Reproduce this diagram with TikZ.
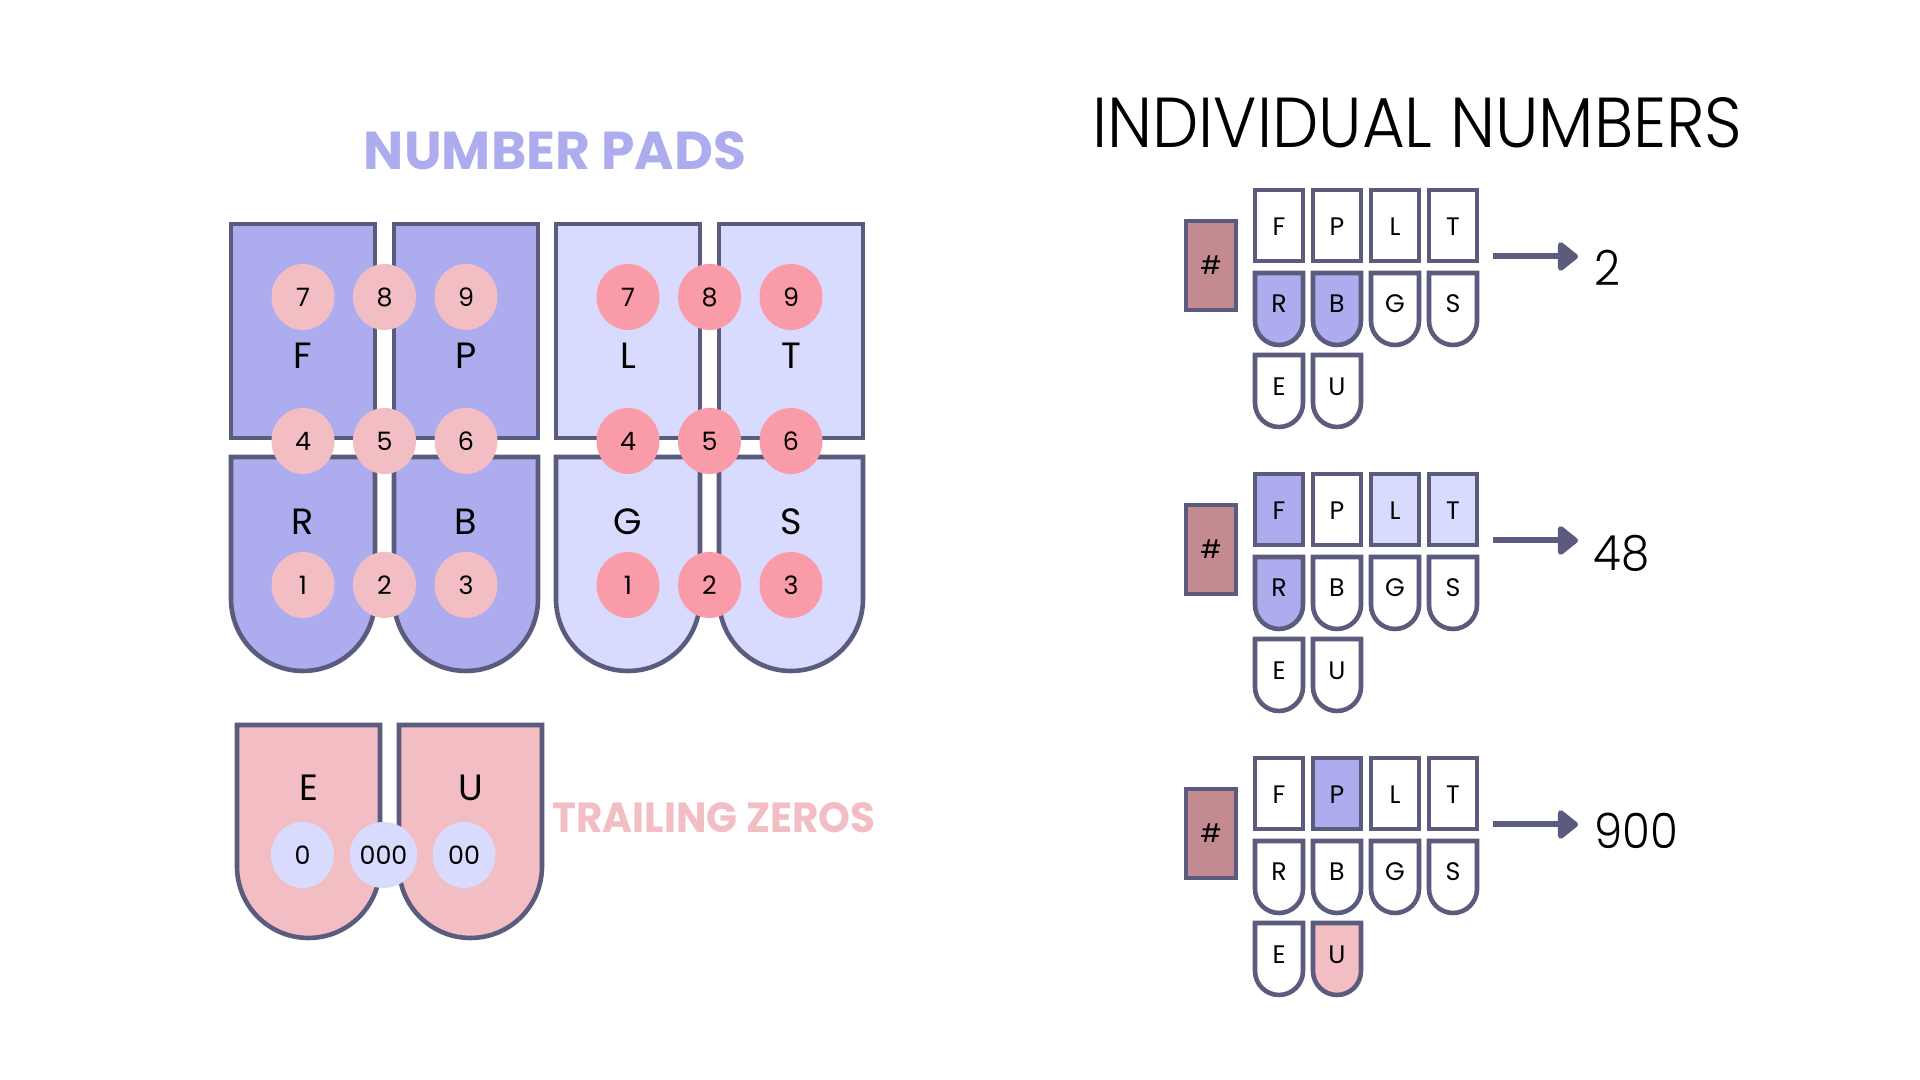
\documentclass[tikz,border=0pt]{standalone}
\usepackage{fontspec}
\usetikzlibrary{arrows.meta,shapes.geometric}
\setmainfont{Poppins}
\newfontfamily\plight{Poppins Light}
\definecolor{edge}{HTML}{5B5B7D}
\definecolor{lav}{HTML}{ADACEE}
\definecolor{lavlt}{HTML}{D8DBFD}
\definecolor{pinklt}{HTML}{F2BDC3}
\definecolor{pinkdk}{HTML}{FA9BA9}
\definecolor{hashc}{HTML}{C38A90}
\newlength\pxu \setlength\pxu{0.01cm}

% rounded-bottom key: left x, top Y, right x, bottom Y, style
\newcommand\RoundKey[5]{\draw[keyline,#5] (#1,#2) -- (#1,{(#4)+((#3)-(#1))/2}) arc[start angle=180,end angle=360,radius={((#3)-(#1))/2}] -- (#3,#2) -- cycle;}

% one small steno keyboard: id, top y (screen, downward)
\newcommand\DrawGroup[2]{%
  \draw[keyline,fill=hashc] (1186,1080-#2-33) rectangle (1236,1080-#2-122);
  \node[keyletter] (#1hash) at (1211,1080-#2-77) {\#};
  \draw[keyline,kF] (1255,1080-#2-2) rectangle (1303,1080-#2-73);
  \draw[keyline,kP] (1313,1080-#2-2) rectangle (1361,1080-#2-73);
  \draw[keyline,kL] (1371,1080-#2-2) rectangle (1419,1080-#2-73);
  \draw[keyline,kT] (1429,1080-#2-2) rectangle (1477,1080-#2-73);
  \RoundKey{1255}{1080-#2-85}{1303}{1080-#2-157}{kR}
  \RoundKey{1313}{1080-#2-85}{1361}{1080-#2-157}{kB}
  \RoundKey{1371}{1080-#2-85}{1419}{1080-#2-157}{kG}
  \RoundKey{1429}{1080-#2-85}{1477}{1080-#2-157}{kS}
  \RoundKey{1255}{1080-#2-167}{1303}{1080-#2-239}{kE}
  \RoundKey{1313}{1080-#2-167}{1361}{1080-#2-239}{kU}
  \node[keyletter] (#1F) at (1279,1080-#2-39) {F};
  \node[keyletter] (#1P) at (1337,1080-#2-39) {P};
  \node[keyletter] (#1L) at (1395,1080-#2-39) {L};
  \node[keyletter] (#1T) at (1453,1080-#2-39) {T};
  \node[keyletter] (#1R) at (1279,1080-#2-116) {R};
  \node[keyletter] (#1B) at (1337,1080-#2-116) {B};
  \node[keyletter] (#1G) at (1395,1080-#2-116) {G};
  \node[keyletter] (#1S) at (1453,1080-#2-116) {S};
  \node[keyletter] (#1E) at (1279,1080-#2-198.5) {E};
  \node[keyletter] (#1U) at (1337,1080-#2-198.5) {U};
  \coordinate (#1a) at (1493,1080-#2-68.5);
  \coordinate (#1b) at (1578,1080-#2-68.5);
  \draw[arr] (#1a) -- (#1b);
}

\begin{document}
\begin{tikzpicture}[x=0.01cm,y=0.01cm,
  keyline/.style={draw=edge,line width=4.6\pxu,line join=miter},
  padletter/.style={inner sep=0,font=\fontsize{10.4}{12}\selectfont},
  keyletter/.style={inner sep=0,font=\fontsize{7.2}{8}\selectfont},
  circ/.style={ellipse,draw=none,minimum width=63\pxu,minimum height=66\pxu,inner sep=0,font=\fontsize{7.2}{8}\selectfont},
  numlabel/.style={anchor=west,inner sep=0,xscale=0.93,font=\plight\fontsize{13.8}{16}\selectfont},
  arr/.style={draw=edge,line width=6\pxu,-{Triangle[length=6.2pt,width=9.4pt,round]}},
  kF/.style={fill=white},kP/.style={fill=white},kL/.style={fill=white},kT/.style={fill=white},
  kR/.style={fill=white},kB/.style={fill=white},kG/.style={fill=white},kS/.style={fill=white},
  kE/.style={fill=white},kU/.style={fill=white}]
\useasboundingbox (0,0) rectangle (1920,1080);
\fill[white] (0,0) rectangle (1920,1080);

% ---------- titles ----------
\node[inner sep=0,text=lav] (npads) at (555,929) {\resizebox{382\pxu}{38\pxu}{\bfseries NUMBER PADS}};
\node[inner sep=0] (indiv) at (1417.5,957) {\resizebox{650\pxu}{50\pxu}{\plight INDIVIDUAL NUMBERS}};
\node[inner sep=0,text=pinklt] (tzeros) at (714,262) {\resizebox{323\pxu}{30\pxu}{\bfseries TRAILING ZEROS}};

% ---------- left number pad ----------
\draw[keyline,fill=lav] (231,856) rectangle (375,642);
\draw[keyline,fill=lav] (394,856) rectangle (538,642);
\RoundKey{231}{623}{375}{409}{fill=lav}
\RoundKey{394}{623}{538}{409}{fill=lav}
% ---------- right number pad ----------
\draw[keyline,fill=lavlt] (556,856) rectangle (700,642);
\draw[keyline,fill=lavlt] (719,856) rectangle (863,642);
\RoundKey{556}{623}{700}{409}{fill=lavlt}
\RoundKey{719}{623}{863}{409}{fill=lavlt}
% ---------- vowel keys ----------
\RoundKey{237}{355}{380}{142}{fill=pinklt}
\RoundKey{399}{355}{542}{142}{fill=pinklt}

% pad letters
\node[padletter] (pF) at (303,724) {F};
\node[padletter] (pP) at (466,724) {P};
\node[padletter] (pL) at (628,724) {L};
\node[padletter] (pT) at (791,724) {T};
\node[padletter] (pR) at (303,558.5) {R};
\node[padletter] (pB) at (466,558.5) {B};
\node[padletter] (pG) at (628,558.5) {G};
\node[padletter] (pS) at (791,558.5) {S};
\node[padletter] (pE) at (309,292) {E};
\node[padletter] (pU) at (471,292) {U};

% left pad digits
\node[circ,fill=pinklt] (l7) at (303,783) {7};
\node[circ,fill=pinklt] (l8) at (384.5,783) {8};
\node[circ,fill=pinklt] (l9) at (466,783) {9};
\node[circ,fill=pinklt] (l4) at (303,639) {4};
\node[circ,fill=pinklt] (l5) at (384.5,639) {5};
\node[circ,fill=pinklt] (l6) at (466,639) {6};
\node[circ,fill=pinklt] (l1) at (303,495) {1};
\node[circ,fill=pinklt] (l2) at (384.5,495) {2};
\node[circ,fill=pinklt] (l3) at (466,495) {3};
% right pad digits
\node[circ,fill=pinkdk] (r7) at (628,783) {7};
\node[circ,fill=pinkdk] (r8) at (709.5,783) {8};
\node[circ,fill=pinkdk] (r9) at (791,783) {9};
\node[circ,fill=pinkdk] (r4) at (628,639) {4};
\node[circ,fill=pinkdk] (r5) at (709.5,639) {5};
\node[circ,fill=pinkdk] (r6) at (791,639) {6};
\node[circ,fill=pinkdk] (r1) at (628,495) {1};
\node[circ,fill=pinkdk] (r2) at (709.5,495) {2};
\node[circ,fill=pinkdk] (r3) at (791,495) {3};
% zeros
\node[circ,fill=lavlt] (z1) at (302.5,225) {0};
\node[circ,fill=lavlt] (z3) at (383.5,225) {000};
\node[circ,fill=lavlt] (z2) at (464,225) {00};

% ---------- individual number examples ----------
\begin{scope}
  \tikzset{kR/.style={fill=lav},kB/.style={fill=lav}}
  \DrawGroup{ga}{188}
\end{scope}
\begin{scope}
  \tikzset{kF/.style={fill=lav},kR/.style={fill=lav},kL/.style={fill=lavlt},kT/.style={fill=lavlt}}
  \DrawGroup{gb}{472}
\end{scope}
\begin{scope}
  \tikzset{kP/.style={fill=lav},kU/.style={fill=pinklt}}
  \DrawGroup{gc}{756}
\end{scope}

\node[numlabel] (n2) at (1594,812.5) {2};
\node[numlabel] (n48) at (1593,526.5) {48};
\node[numlabel] (n900) at (1594,249) {900};
\end{tikzpicture}
\end{document}
